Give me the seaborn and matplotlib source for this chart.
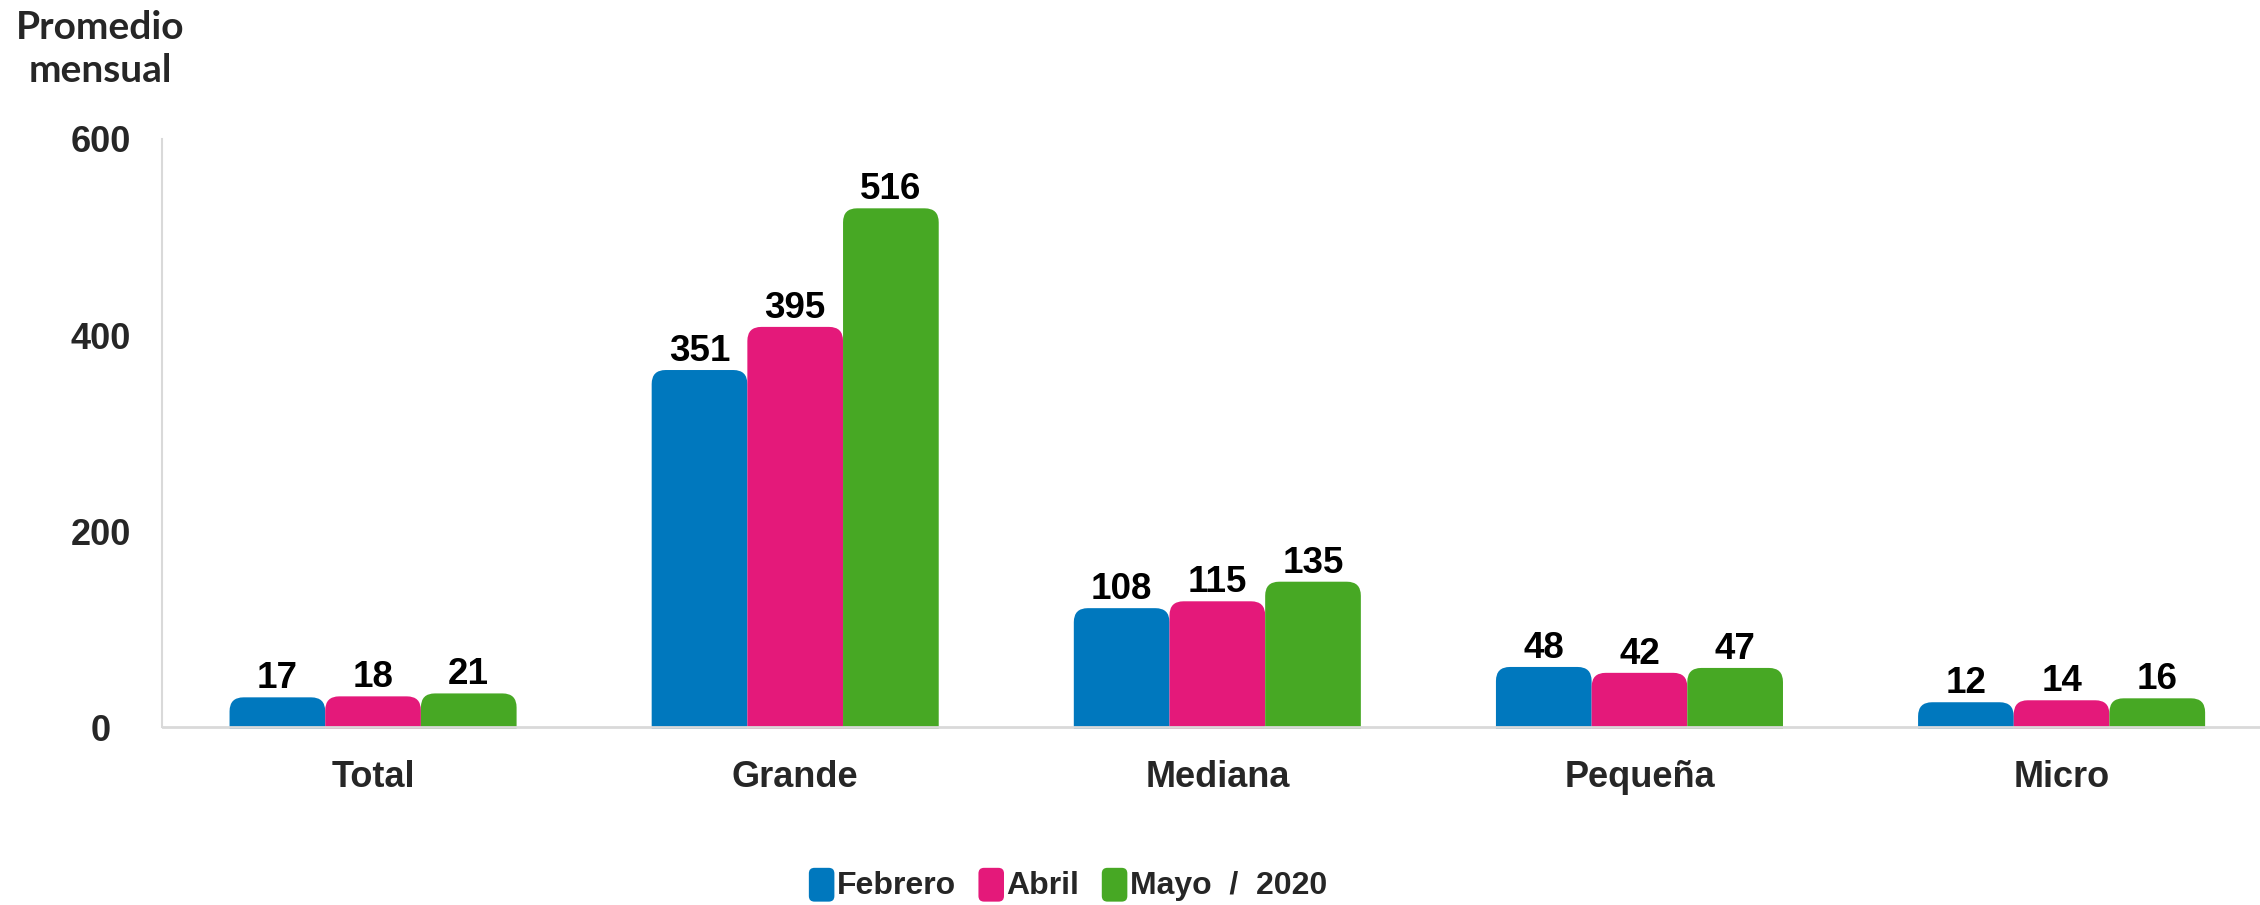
import pandas as pd
import seaborn as sns
import matplotlib.pyplot as plt
from matplotlib.patches import FancyBboxPatch, Patch
from matplotlib.legend_handler import HandlerPatch

# datos
categorias = ["Total", "Grande", "Mediana", "Pequeña", "Micro"]
meses = ["Febrero", "Abril", "Mayo  /  2020"]
febrero = [17, 351, 108, 48, 12]
abril = [18, 395, 115, 42, 14]
mayo = [21, 516, 135, 47, 16]
colores = ["#0078BE", "#E4197A", "#47A824"]

df = pd.DataFrame({
    "Tamaño": categorias * 3,
    "Mes": [meses[0]] * 5 + [meses[1]] * 5 + [meses[2]] * 5,
    "Valor": febrero + abril + mayo,
})

sns.set_style("white")
plt.rcParams["font.family"] = ["Liberation Sans", "DejaVu Sans"]
plt.rcParams["font.weight"] = "bold"

fig = plt.figure(figsize=(22.6, 9.05), dpi=100)
ax = fig.add_axes([162 / 2260, 176 / 905, 1 - 162 / 2260, (729 - 139) / 905])

sns.barplot(data=df, x="Tamaño", y="Valor", hue="Mes", palette=colores,
            width=0.68, gap=0, dodge=True, legend=False, ax=ax, saturation=1,
            edgecolor="none", linewidth=0, errorbar=None)

ax.set_xlim(-0.5, 4.47)
ax.set_ylim(-2.04, 600)

# barras con esquinas superiores redondeadas
px_x = ax.transData.transform((1, 0))[0] - ax.transData.transform((0, 0))[0]
px_y = ax.transData.transform((0, 1))[1] - ax.transData.transform((0, 0))[1]
radio_px = 14
extra_px = 13
rx = radio_px / px_x
ry = radio_px / px_y
extra = extra_px / px_y

barras = list(ax.patches)
for b in barras:
    x, w, h = b.get_x(), b.get_width(), b.get_height()
    fc = b.get_facecolor()
    b.remove()
    p = FancyBboxPatch((x, -ry - 3), w, h + extra + ry + 3,
                       boxstyle=f"round,pad=0,rounding_size={rx}",
                       mutation_aspect=ry / rx, fc=fc, ec="none", zorder=2)
    ax.add_patch(p)
    ax.text(x + w / 2, h + extra + 1 / px_y, f"{h:.0f}", ha="center", va="bottom",
            fontsize=26.5, fontweight="bold", color="black", zorder=4)

for s in ["top", "right", "bottom"]:
    ax.spines[s].set_visible(False)
ax.spines["left"].set_color("#D9D9D9")
ax.spines["left"].set_linewidth(1.5)
ax.spines["left"].set_bounds(0, 600)
ax.axhline(0, color="#D9D9D9", lw=2, zorder=3)

ax.set_yticks([0, 200, 400, 600])
ax.set_yticklabels(["0", "200", "400", "600"], fontsize=26, fontweight="bold")
for t in ax.get_yticklabels():
    t.set_ha("center")
ax.tick_params(axis="y", length=0, pad=44)
ax.tick_params(axis="x", length=0, pad=22, labelsize=26)
for t in ax.get_xticklabels():
    t.set_fontweight("bold")
ax.set_xlabel("")
ax.set_ylabel("")

fig.text(100 / 2260, 1 - 49 / 905, "Promedio\nmensual", ha="center", va="center",
         fontsize=28, fontweight="bold", family=["Lato", "DejaVu Sans"], linespacing=1.25)


class RoundHandler(HandlerPatch):
    def create_artists(self, legend, orig_handle, xdescent, ydescent, width, height, fontsize, trans):
        p = FancyBboxPatch((-xdescent, -ydescent - 4), width, height + 6,
                           boxstyle=f"round,pad=0,rounding_size={0.22 * width}",
                           fc=orig_handle.get_facecolor(), ec="none", transform=trans)
        return [p]


handles = [Patch(facecolor=c) for c in colores]
fig.legend(handles, meses, loc="center", bbox_to_anchor=(1068 / 2260, 1 - 886 / 905),
           ncol=3, frameon=False, handlelength=0.8, handleheight=0.85,
           handletextpad=0.08, columnspacing=0.7,
           prop={"family": ["Liberation Sans", "DejaVu Sans"], "weight": "bold", "size": 23},
           handler_map={Patch: RoundHandler()})

plt.savefig("out.png", dpi=100)
